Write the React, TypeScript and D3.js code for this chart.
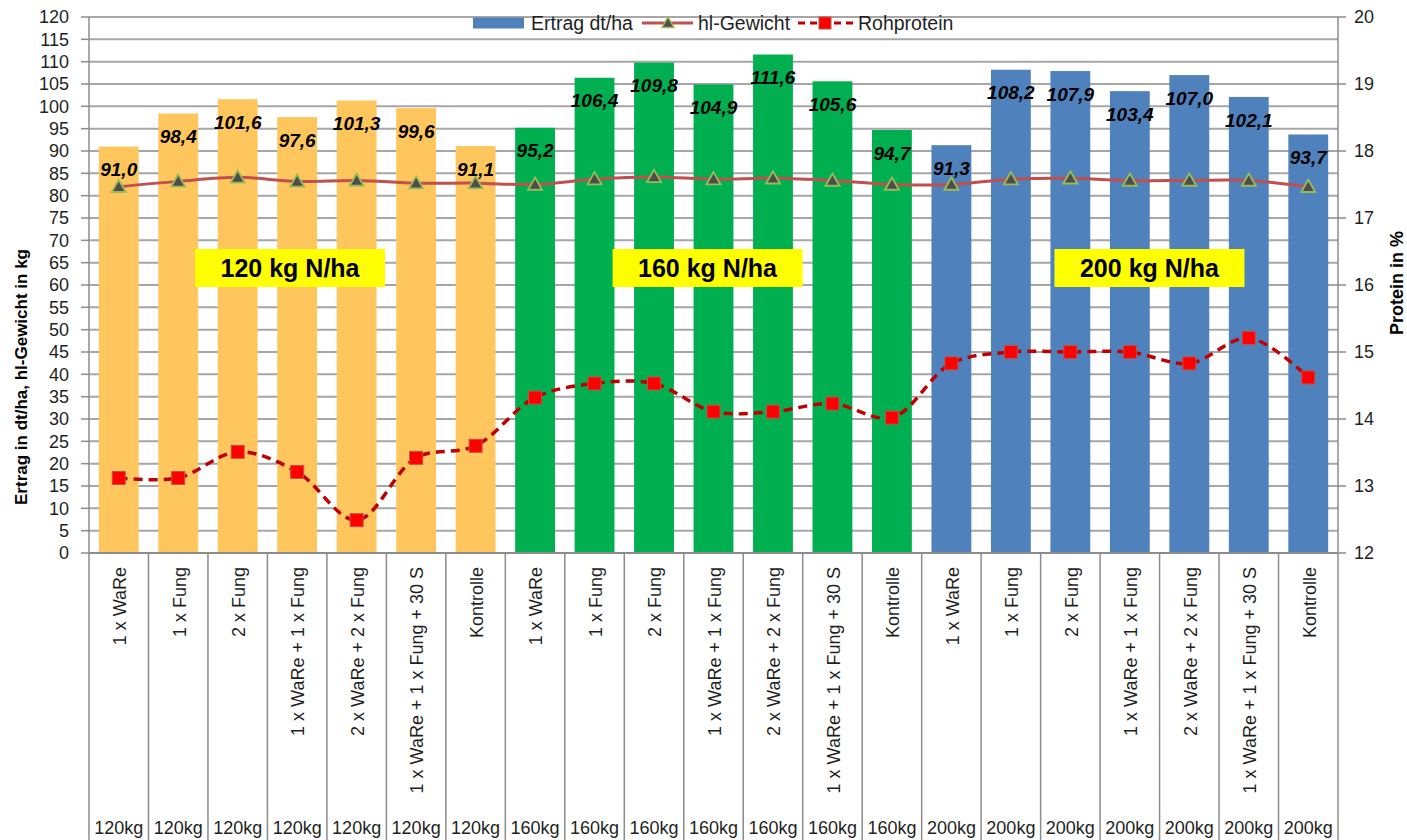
import React from "react";
import * as d3 from "d3";

const treatments = [
  "1 x WaRe",
  "1 x Fung",
  "2 x Fung",
  "1 x WaRe + 1 x Fung",
  "2 x WaRe + 2 x Fung",
  "1 x WaRe + 1 x Fung + 30 S",
  "Kontrolle",
];
const nLevels = ["120kg", "160kg", "200kg"];
const groupLabels = ["120 kg N/ha", "160 kg N/ha", "200 kg N/ha"];
const groupColors = ["#FFC65E", "#00B050", "#4F81BD"];

const ertrag = [
  91.0, 98.4, 101.6, 97.6, 101.3, 99.6, 91.1,
  95.2, 106.4, 109.8, 104.9, 111.6, 105.6, 94.7,
  91.3, 108.2, 107.9, 103.4, 107.0, 102.1, 93.7,
];
const hlGewicht = [
  82.0, 83.2, 84.1, 83.2, 83.4, 82.8, 82.8,
  82.5, 83.7, 84.2, 83.7, 83.9, 83.4, 82.5,
  82.5, 83.7, 83.9, 83.4, 83.4, 83.4, 82.0,
];
const rohprotein = [
  13.12, 13.12, 13.51, 13.21, 12.49, 13.42, 13.6,
  14.32, 14.53, 14.53, 14.11, 14.11, 14.23, 14.02,
  14.83, 15.0, 15.0, 15.0, 14.83, 15.21, 14.62,
];
const leftTicks = d3.range(0, 121, 5);
const rightTicks = d3.range(12, 21, 1);

const W = 1407;
const H = 840;
const FONT = "'Liberation Sans', Arial, sans-serif";

export default function App() {
  const n = ertrag.length;
  const cats = nLevels.flatMap((lv, g) => treatments.map((t, i) => ({ t, lv, g, idx: g * treatments.length + i })));
  const left = 89, right = 1338, top = 17, bottom = 553;
  const x = d3.scaleBand<number>().domain(d3.range(n)).range([left, right]).paddingInner(0.33).paddingOuter(0.165);
  const step = (right - left) / n;
  const y = d3.scaleLinear().domain([0, 120]).range([bottom, top]);
  const y2 = d3.scaleLinear().domain([12, 20]).range([bottom, top]);
  const cx = (i: number) => (x(i) as number) + x.bandwidth() / 2;

  const hlLine = d3.line<number>().x((_, i) => cx(i)).y((d) => y(d)).curve(d3.curveCatmullRom.alpha(0.5));
  const protLine = d3.line<number>().x((_, i) => cx(i)).y((d) => y2(d)).curve(d3.curveCatmullRom.alpha(0.5));

  const tri = (px: number, py: number, s = 7) => `M${px},${py - s} L${px + s},${py + s * 0.75} L${px - s},${py + s * 0.75} Z`;

  const gridColor = "#A6A6A6";
  const axisColor = "#8C8C8C";
  const boxCenters = [3.38, 10.4, 17.83];
  const textColor = "#1f1f1f";

  return (
    <svg width={W} height={H} style={{ position: "absolute", left: 0, top: 0, background: "#fff" }} fontFamily={FONT}>
      <rect x={0} y={0} width={W} height={H} fill="#fff" />
      {leftTicks.map((t) => (
        <line key={"g" + t} x1={left} x2={right} y1={y(t)} y2={y(t)} stroke={gridColor} strokeWidth={2} />
      ))}
      {leftTicks.map((t) => (
        <g key={"lt" + t}>
          <line x1={left - 8} x2={left} y1={y(t)} y2={y(t)} stroke={axisColor} strokeWidth={1.5} />
          <text x={69} y={y(t)} dy="0.35em" textAnchor="end" fontSize={18} fill={textColor}>{t}</text>
        </g>
      ))}
      {rightTicks.map((t) => (
        <g key={"rt" + t}>
          <line x1={right} x2={right + 8} y1={y2(t)} y2={y2(t)} stroke={axisColor} strokeWidth={1.5} />
          <text x={1354} y={y2(t)} dy="0.35em" textAnchor="start" fontSize={18} fill={textColor}>{t}</text>
        </g>
      ))}
      {ertrag.map((v, i) => (
        <rect key={"b" + i} x={x(i)} y={y(v)} width={x.bandwidth()} height={bottom - y(v)} fill={groupColors[cats[i].g]} />
      ))}
      {d3.range(n + 1).map((k) => (
        <line key={"s" + k} x1={left + k * step} x2={left + k * step} y1={k === 0 || k === n ? top : bottom} y2={H} stroke={axisColor} strokeWidth={1.5} />
      ))}
      <line x1={left} x2={right} y1={bottom} y2={bottom} stroke={axisColor} strokeWidth={2} />
      {cats.map((c, i) => (
        <g key={"c" + i}>
          <text transform={`translate(${cx(i) + 1},567) rotate(-90)`} dy="0.35em" textAnchor="end" fontSize={18} fill={textColor}>{c.t}</text>
          <text x={cx(i)} y={828} dy="0.35em" textAnchor="middle" fontSize={18} fill={textColor}>{c.lv}</text>
        </g>
      ))}
      {groupLabels.map((l, g) => {
        const bx = left + boxCenters[g] * step;
        return (
          <g key={"gb" + g}>
            <rect x={bx - 95} y={249} width={190} height={38} fill="#FFFF00" />
            <text x={bx} y={268} dy="0.35em" textAnchor="middle" fontSize={25} fontWeight="bold" fill="#000">{l}</text>
          </g>
        );
      })}
      <path d={hlLine(hlGewicht) || ""} fill="none" stroke="#C0504D" strokeWidth={3} />
      {hlGewicht.map((v, i) => (
        <path key={"h" + i} d={tri(cx(i), y(v))} fill="#4D4D4D" stroke="#9BBB59" strokeWidth={1.8} />
      ))}
      <path d={protLine(rohprotein) || ""} fill="none" stroke="#C00000" strokeWidth={3.5} strokeDasharray="9,6" />
      {rohprotein.map((v, i) => (
        <rect key={"p" + i} x={cx(i) - 6.5} y={y2(v) - 6.5} width={13} height={13} fill="#FF0000" stroke="#C0504D" strokeWidth={1} />
      ))}
      {ertrag.map((v, i) => (
        <text key={"dl" + i} x={cx(i)} y={y(v) + 23} dy="0.35em" textAnchor="middle" fontSize={19} fontWeight="bold" fontStyle="italic" fill="#000">
          {v.toFixed(1).replace(".", ",")}
        </text>
      ))}
      <text transform={`translate(21,377) rotate(-90)`} textAnchor="middle" dy="0.35em" fontSize={17} fontWeight="bold" fill="#000">
        Ertrag in dt/ha, hl-Gewicht in kg
      </text>
      <text transform={`translate(1397,283) rotate(-90)`} textAnchor="middle" dy="0.35em" fontSize={18} fontWeight="bold" fill="#000">
        Protein in %
      </text>
      <g>
        <rect x={464} y={19} width={500} height={18} fill="#fff" />
        <rect x={473} y={17.5} width={51} height={11} fill="#4F81BD" />
        <text x={531} y={23} dy="0.35em" fontSize={19.5} fill={textColor}>Ertrag dt/ha</text>
        <line x1={642} x2={693} y1={23} y2={23} stroke="#C0504D" strokeWidth={3} />
        <path d={tri(668, 23, 6)} fill="#4D4D4D" stroke="#9BBB59" strokeWidth={1.5} />
        <text x={698} y={23} dy="0.35em" fontSize={19.5} fill={textColor}>hl-Gewicht</text>
        <line x1={798} x2={853} y1={23} y2={23} stroke="#C00000" strokeWidth={3} strokeDasharray="7,5" />
        <rect x={819} y={17} width={12} height={12} fill="#FF0000" stroke="#C0504D" />
        <text x={858} y={23} dy="0.35em" fontSize={19.5} fill={textColor}>Rohprotein</text>
      </g>
    </svg>
  );
}
